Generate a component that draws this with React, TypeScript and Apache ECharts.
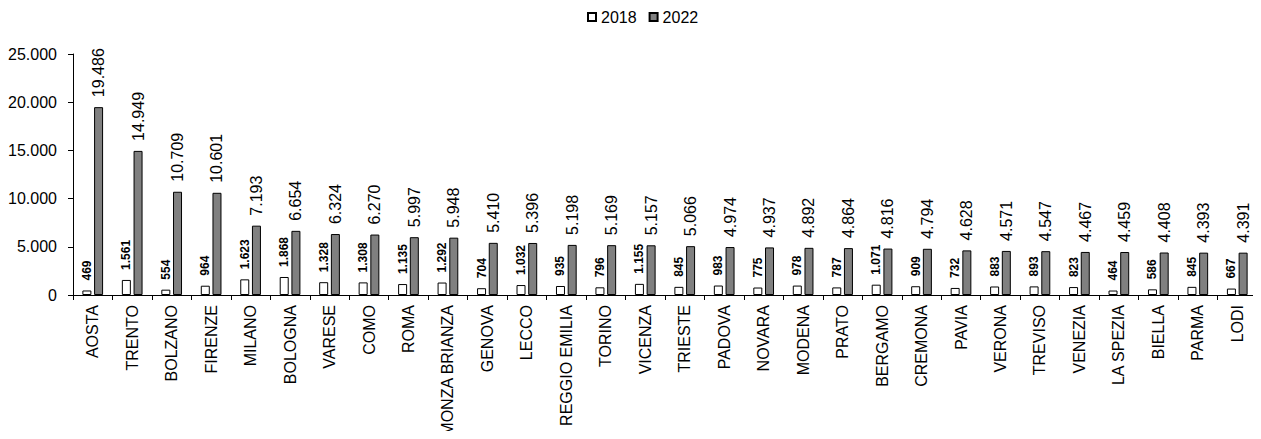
import React, { useEffect, useRef } from "react";
import * as echarts from "echarts";

const categories = ["AOSTA","TRENTO","BOLZANO","FIRENZE","MILANO","BOLOGNA","VARESE","COMO","ROMA","MONZA BRIANZA","GENOVA","LECCO","REGGIO EMILIA","TORINO","VICENZA","TRIESTE","PADOVA","NOVARA","MODENA","PRATO","BERGAMO","CREMONA","PAVIA","VERONA","TREVISO","VENEZIA","LA SPEZIA","BIELLA","PARMA","LODI"];
const values2018 = [469,1561,554,964,1623,1868,1328,1308,1135,1292,704,1032,935,796,1155,845,983,775,978,787,1071,909,732,883,893,823,464,586,845,667];
const values2022 = [19486,14949,10709,10601,7193,6654,6324,6270,5997,5948,5410,5396,5198,5169,5157,5066,4974,4937,4892,4864,4816,4794,4628,4571,4547,4467,4459,4408,4393,4391];

const fmt = (v: number) => String(Math.round(v)).replace(/\B(?=(\d{3})+(?!\d))/g, ".");
const FONT = "'Liberation Sans', Arial, sans-serif";

export default function App() {
  const ref = useRef<HTMLDivElement>(null);
  useEffect(() => {
    if (!ref.current) return;
    const chart = echarts.init(ref.current, undefined, { renderer: "svg" });
    chart.setOption({
      animation: false,
      textStyle: { fontFamily: FONT },
      legend: {
        top: 9,
        left: 587,
        padding: 0,
        icon: "rect",
        itemWidth: 8,
        itemHeight: 8,
        itemGap: 12,
        textStyle: { fontFamily: FONT, fontSize: 16, color: "#000" },
        data: ["2018", "2022"],
      },
      grid: { left: 73, right: 4, top: 54, bottom: 144, containLabel: false, outerBoundsMode: "none" },
      xAxis: {
        type: "category",
        data: categories,
        axisLine: { lineStyle: { color: "#000", width: 1 } },
        axisTick: { show: true, length: 5, lineStyle: { color: "#000" } },
        axisLabel: { rotate: 90, interval: 0, fontSize: 16, color: "#000", fontFamily: FONT, margin: 10, hideOverlap: false },
      },
      yAxis: {
        type: "value",
        min: 0,
        max: 25000,
        interval: 5000,
        splitLine: { show: false },
        axisLine: { show: true, lineStyle: { color: "#000", width: 1 } },
        axisTick: { show: true, length: 5, lineStyle: { color: "#000" } },
        axisLabel: { fontSize: 16, color: "#000", fontFamily: FONT, formatter: (v: number) => fmt(v), margin: 16 },
      },
      series: [
        {
          name: "2018",
          type: "bar",
          data: values2018,
          barWidth: 9,
          barGap: "30%",
          itemStyle: { color: "#ffffff", borderColor: "#000", borderWidth: 1 },
          label: {
            show: true,
            position: "top",
            rotate: 90,
            align: "left",
            verticalAlign: "middle",
            distance: 10,
            fontSize: 12,
            fontWeight: "bold",
            color: "#000",
            fontFamily: FONT,
            formatter: (p: any) => fmt(p.value),
          },
        },
        {
          name: "2022",
          type: "bar",
          data: values2022,
          barWidth: 9,
          itemStyle: { color: "#808080", borderColor: "#000", borderWidth: 1 },
          label: {
            show: true,
            position: "top",
            rotate: 90,
            align: "left",
            verticalAlign: "middle",
            distance: 10,
            fontSize: 16,
            color: "#000",
            fontFamily: FONT,
            formatter: (p: any) => fmt(p.value),
          },
        },
      ],
    });
    return () => chart.dispose();
  }, []);
  return <div ref={ref} style={{ width: 1261, height: 439, margin: -8 }} />;
}
